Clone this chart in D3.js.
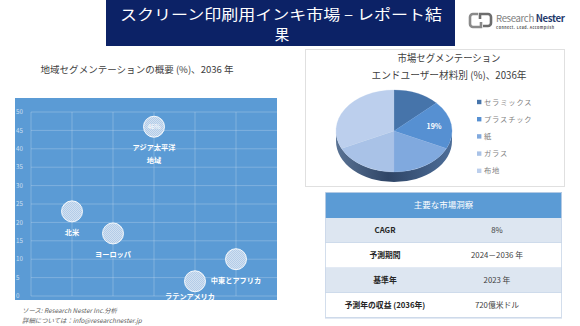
<!DOCTYPE html>
<html><head><meta charset="utf-8">
<script src="https://cdn.jsdelivr.net/npm/d3@7"></script>
<style>
html,body{margin:0;padding:0;background:#fff;}
svg{display:block;}
text{font-family:"Noto Sans CJK JP","Noto Sans",sans-serif;}
</style></head>
<body>
<svg id="c" width="580" height="326"></svg>
<script>
// ---- data ----
const titleLines = ["スクリーン印刷用インキ市場 – レポート結", "果"];
const leftTitle = "地域セグメンテーションの概要 (%)、2036 年";
const regionLabels = [["北米"], ["ヨーロッパ"], ["アジア太平洋", "地域"], ["ラテンアメリカ"], ["中東とアフリカ"]];
const regionX = [1, 2, 3, 4, 5];
const regionShare = [23, 17, 46, 4, 10];
const regionValueLabel = ["", "", "46%", "", ""];
const yTicks = [0, 5, 10, 15, 20, 25, 30, 35, 40, 45, 50];
const xGrid = [0, 1, 2, 3, 4, 5];
const sourceLines = ["ソース: Research Nester Inc.分析", "詳細については：info@researchnester.jp"];
const pieTitle = ["市場セグメンテーション", "エンドユーザー材料別 (%)、2036年"];
const materials = ["セラミックス", "プラスチック", "紙", "ガラス", "布地"];
const materialShare = [13, 19, 18, 18, 32];
const materialLabel = ["", "19%", "", "", ""];
const materialColors = ["#4674aa", "#5690d2", "#80a9de", "#a9c2e7", "#bccfed"];
const tableHeader = "主要な市場洞察";
const tableLabels = ["CAGR", "予測期間", "基準年", "予測年の収益 (2036年)"];
const tableValues = ["8%", "2024－2036 年", "2023 年", "720億米ドル"];

const svg = d3.select("#c");
const defs = svg.append("defs");

// ---- header ----
svg.append("rect").attr("x", 106).attr("y", 0).attr("width", 349).attr("height", 46).attr("fill", "#0c2266");
svg.append("text").attr("x", 281).attr("y", 19.5).attr("text-anchor", "middle")
  .attr("fill", "#fff").attr("font-size", 14.5).attr("textLength", 322).attr("lengthAdjust", "spacingAndGlyphs")
  .text(titleLines[0]);
svg.append("text").attr("x", 282).attr("y", 40).attr("text-anchor", "middle")
  .attr("fill", "#fff").attr("font-size", 14.5).text(titleLines[1]);

// logo
const logo = svg.append("g");
logo.append("path").attr("d", "M478,14 h-5 a3,3 0 0 0 -3,3 v7 a3,3 0 0 0 3,3 h8 v-5")
  .attr("fill", "none").attr("stroke", "#8a8a8a").attr("stroke-width", 2.6);
logo.append("path").attr("d", "M483,26 h5 a3,3 0 0 0 3,-3 v-6 a3,3 0 0 0 -3,-3 h-8 v5")
  .attr("fill", "none").attr("stroke", "#6d6d6d").attr("stroke-width", 2.6);
const lt = logo.append("text").attr("x", 496).attr("y", 21.5).attr("font-size", 9.6)
  .attr("font-family", "'Roboto',sans-serif").attr("letter-spacing", -0.35);
lt.append("tspan").attr("fill", "#808080").text("Research ");
lt.append("tspan").attr("fill", "#1f3a6b").attr("font-weight", "bold").text("Nester");
logo.append("text").attr("x", 496).attr("y", 28.5).attr("font-size", 3.6).attr("fill", "#555")
  .attr("font-family", "'Roboto',sans-serif").attr("font-weight", "bold").attr("letter-spacing", 0.45)
  .text("Connect. Lead. Accomplish");

// ---- left bubble chart ----
svg.append("text").attr("x", 137).attr("y", 73).attr("text-anchor", "middle")
  .attr("font-size", 9.5).attr("fill", "#404040").attr("textLength", 193).attr("lengthAdjust", "spacingAndGlyphs")
  .text(leftTitle);

svg.append("rect").attr("x", 15).attr("y", 98).attr("width", 262).attr("height", 202).attr("fill", "#5b9bd5");

const x = d3.scaleLinear().domain([0, 6]).range([31, 277]);
const y = d3.scaleLinear().domain([0, 50]).range([296, 112]);

const grid = svg.append("g");
grid.selectAll("line.h").data(yTicks).join("line").attr("class", "h")
  .attr("x1", x(0)).attr("x2", x(6)).attr("y1", d => y(d)).attr("y2", d => y(d))
  .attr("stroke", "#fff").attr("stroke-opacity", 0.28).attr("stroke-width", 0.8);
grid.selectAll("line.v").data(xGrid).join("line").attr("class", "v")
  .attr("x1", d => x(d)).attr("x2", d => x(d)).attr("y1", y(50)).attr("y2", y(0))
  .attr("stroke", "#fff").attr("stroke-opacity", 0.28).attr("stroke-width", 0.8);

grid.selectAll("text.yt").data(yTicks).join("text").attr("class", "yt")
  .attr("x", 16).attr("y", d => y(d)).attr("dy", "0.35em")
  .attr("font-size", 6.2).attr("fill", "#fff").attr("fill-opacity", 0.7)
  .attr("font-family", "'Open Sans',sans-serif").text(d => d);

const pat = defs.append("pattern").attr("id", "hatch").attr("patternUnits", "userSpaceOnUse")
  .attr("width", 2).attr("height", 2);
pat.append("rect").attr("width", 2).attr("height", 2).attr("fill", "#b3cce8");
pat.append("path").attr("d", "M0,2 L2,0").attr("stroke", "#d8e5f4").attr("stroke-width", 0.8);

const bubbles = svg.append("g");
regionShare.forEach((v, i) => {
  const cx = x(regionX[i]), cy = y(v);
  bubbles.append("circle").attr("cx", cx).attr("cy", cy).attr("r", 10.5)
    .attr("fill", "url(#hatch)").attr("stroke", "#fff").attr("stroke-width", 1).attr("stroke-opacity", 0.9);
  if (regionValueLabel[i]) {
    bubbles.append("text").attr("x", cx).attr("y", cy).attr("dy", "0.35em").attr("text-anchor", "middle")
      .attr("font-size", 6.5).attr("fill", "#fff").text(regionValueLabel[i]);
  }
  const lines = regionLabels[i];
  const dx = i === 3 ? -5 : 0;
  lines.forEach((t, j) => {
    bubbles.append("text").attr("x", cx + dx).attr("y", cy + 21 + j * 13 + (i === 3 ? -6 : 0))
      .attr("dy", "0.35em").attr("text-anchor", "middle")
      .attr("font-size", 7.2).attr("font-weight", "bold").attr("fill", "#fff").text(t);
  });
});

svg.selectAll("text.src").data(sourceLines).join("text").attr("class", "src")
  .attr("x", 22).attr("y", (d, i) => 313 + i * 9.5)
  .attr("font-size", 6.4).attr("font-style", "italic").attr("fill", "#606060").text(d => d);

// ---- pie panel ----
svg.append("rect").attr("x", 305.5).attr("y", 49.5).attr("width", 259).attr("height", 137)
  .attr("fill", "#fff").attr("stroke", "#e0e0e0").attr("stroke-width", 1);
svg.selectAll("text.pt").data(pieTitle).join("text").attr("class", "pt")
  .attr("x", 449).attr("y", (d, i) => 62 + i * 17).attr("text-anchor", "middle")
  .attr("font-size", 10).attr("fill", "#404040")
  .attr("textLength", (d, i) => i === 0 ? 103 : 155).attr("lengthAdjust", "spacingAndGlyphs")
  .text(d => d);

const cx = 394, cy = 131, rx = 58, ry = 41, depth = 10;
const grad = defs.append("linearGradient").attr("id", "side").attr("x1", 0).attr("x2", 1).attr("y1", 0).attr("y2", 0);
grad.append("stop").attr("offset", 0).attr("stop-color", "#5a7394");
grad.append("stop").attr("offset", 0.45).attr("stop-color", "#2f4566");
grad.append("stop").attr("offset", 1).attr("stop-color", "#4d6e99");
svg.append("path")
  .attr("d", `M${cx + rx},${cy} A${rx},${ry} 0 0 1 ${cx - rx},${cy} L${cx - rx},${cy + depth} A${rx},${ry} 0 0 0 ${cx + rx},${cy + depth} Z`)
  .attr("fill", "url(#side)");

const pie = d3.pie().sort(null).value(d => d);
const arcs = pie(materialShare);
const arc = d3.arc().innerRadius(0).outerRadius(rx);
const pg = svg.append("g").attr("transform", `translate(${cx},${cy}) scale(1,${ry / rx})`);
pg.selectAll("path").data(arcs).join("path").attr("d", arc)
  .attr("fill", (d, i) => materialColors[i]).attr("stroke", (d, i) => materialColors[i]).attr("stroke-width", 0.3);
arcs.forEach((a, i) => {
  if (!materialLabel[i]) return;
  const c = d3.arc().innerRadius(rx * 0.55).outerRadius(rx * 0.85).centroid(a);
  svg.append("text").attr("x", cx + c[0]).attr("y", cy + c[1] * ry / rx).attr("dy", "0.35em")
    .attr("text-anchor", "middle").attr("font-size", 7).attr("font-weight", "bold").attr("fill", "#fff")
    .text(materialLabel[i]);
});

const leg = svg.append("g");
materials.forEach((m, i) => {
  const ly = 102 + i * 17.2;
  leg.append("rect").attr("x", 477).attr("y", ly - 2.2).attr("width", 4.4).attr("height", 4.4).attr("fill", materialColors[i]);
  leg.append("text").attr("x", 484).attr("y", ly).attr("dy", "0.35em").attr("font-size", 7.3)
    .attr("fill", "#808080").attr("letter-spacing", 0.8).text(m);
});

// ---- table ----
const tx = 325, tw = 237, ty = 192, hh = 26, rh = 25;
svg.append("rect").attr("x", tx).attr("y", ty).attr("width", tw).attr("height", hh).attr("fill", "#5b9bd5");
svg.append("text").attr("x", tx + tw / 2).attr("y", ty + hh / 2).attr("dy", "0.35em").attr("text-anchor", "middle")
  .attr("font-size", 8.5).attr("fill", "#fff").text(tableHeader);
const rows = svg.append("g");
tableLabels.forEach((l, i) => {
  const ry0 = ty + hh + i * rh;
  rows.append("rect").attr("x", tx).attr("y", ry0).attr("width", tw).attr("height", rh)
    .attr("fill", i % 2 === 0 ? "#dde6f1" : "#ffffff");
  rows.append("line").attr("x1", tx).attr("x2", tx + tw).attr("y1", ry0 + rh).attr("y2", ry0 + rh)
    .attr("stroke", "#b7c9e2").attr("stroke-width", 0.8);
  rows.append("text").attr("x", 385).attr("y", ry0 + rh / 2).attr("dy", "0.35em").attr("text-anchor", "middle")
    .attr("font-size", 7.8).attr("font-weight", "bold").attr("fill", "#262626").text(l);
  rows.append("text").attr("x", 497).attr("y", ry0 + rh / 2).attr("dy", "0.35em").attr("text-anchor", "middle")
    .attr("font-size", 7.8).attr("fill", "#404040").text(tableValues[i]);
});
svg.append("rect").attr("x", tx + 0.5).attr("y", ty + 0.5).attr("width", tw - 1).attr("height", hh + 4 * rh - 1)
  .attr("fill", "none").attr("stroke", "#c9d6e8").attr("stroke-width", 0.8);
</script>
</body></html>
